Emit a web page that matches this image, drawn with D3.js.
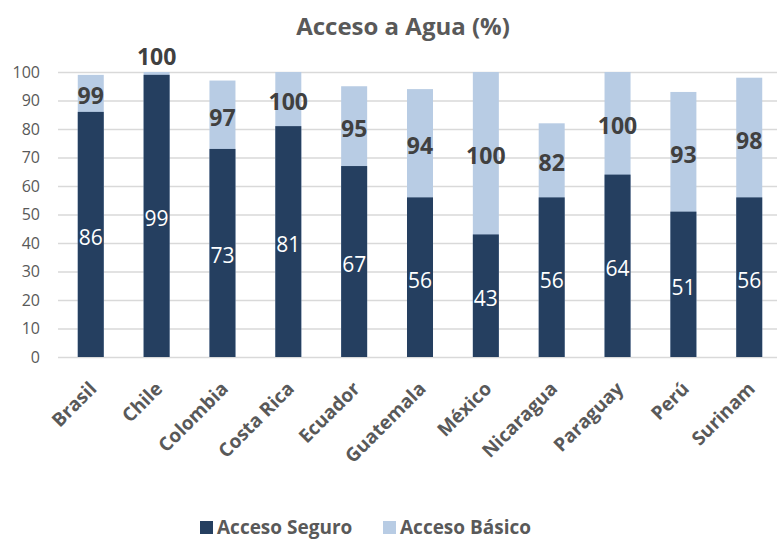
<!DOCTYPE html>
<html>
<head>
<meta charset="utf-8">
<script src="https://cdn.jsdelivr.net/npm/d3@7"></script>
<style>
  html, body { margin: 0; padding: 0; background: #fff; }
  svg { display: block; overflow: hidden; }
</style>
</head>
<body>
<svg id="chart" width="777" height="540"></svg>
<script>
const countries = ['Brasil', 'Chile', 'Colombia', 'Costa Rica', 'Ecuador', 'Guatemala',
  'México', 'Nicaragua', 'Paraguay', 'Perú', 'Surinam'];
const seguro = [86, 99, 73, 81, 67, 56, 43, 56, 64, 51, 56];
const basico = [99, 100, 97, 100, 95, 94, 100, 82, 100, 93, 98];
const yTicks = [0, 10, 20, 30, 40, 50, 60, 70, 80, 90, 100];

const FONT = '"Open Sans", "Noto Sans", sans-serif';
const DARK = '#253F60';
const LIGHT = '#B8CCE4';
const TEXT = '#595959';

const rows = countries.map((c, i) => ({ name: c, seguro: seguro[i], basico: basico[i] }));

const svg = d3.select('#chart');
const margin = { top: 72, left: 58, bottom: 183 };
const plotRight = 782;   // plot area runs past the right edge of the picture
const height = 540 - margin.top - margin.bottom;

const x = d3.scaleBand().domain(countries).range([margin.left, plotRight]).paddingInner(0.605).paddingOuter(0.3);
const y = d3.scaleLinear().domain([0, 100]).range([margin.top + height, margin.top]);

// Title
svg.append('text')
  .attr('x', 403).attr('y', 35)
  .attr('text-anchor', 'middle')
  .attr('font-family', FONT).attr('font-weight', 700).attr('font-size', 24)
  .attr('fill', TEXT)
  .text('Acceso a Agua (%)');

// Grid
svg.append('g')
  .attr('transform', `translate(${margin.left},0)`)
  .call(d3.axisLeft(y).tickValues(yTicks).tickSize(-(777 - margin.left)).tickFormat(''))
  .call(ax => ax.select('.domain').remove())
  .call(ax => ax.selectAll('line').attr('stroke', '#d9d9d9').attr('stroke-width', 1.5));

// Y axis labels
svg.append('g')
  .attr('transform', `translate(${margin.left},0)`)
  .call(d3.axisLeft(y).tickValues(yTicks).tickSize(0).tickPadding(18))
  .call(ax => ax.select('.domain').remove())
  .call(ax => ax.selectAll('text')
    .attr('fill', TEXT).attr('font-family', FONT).attr('font-size', 16));

// Bars: basic access behind, safe access in front
const bars = svg.append('g');
bars.selectAll('rect.basico')
  .data(rows).join('rect')
  .attr('class', 'basico')
  .attr('x', d => x(d.name)).attr('width', x.bandwidth())
  .attr('y', d => y(d.basico)).attr('height', d => y(0) - y(d.basico))
  .attr('fill', LIGHT);

bars.selectAll('rect.seguro')
  .data(rows).join('rect')
  .attr('class', 'seguro')
  .attr('x', d => x(d.name)).attr('width', x.bandwidth())
  .attr('y', d => y(d.seguro)).attr('height', d => y(0) - y(d.seguro))
  .attr('fill', DARK);

// Labels
svg.append('g').selectAll('text')
  .data(rows).join('text')
  .attr('x', d => x(d.name) + x.bandwidth() / 2)
  .attr('y', d => y(d.seguro / 2) + 3)
  .attr('dy', '0.35em')
  .attr('text-anchor', 'middle')
  .attr('font-family', FONT).attr('font-size', 21)
  .attr('fill', '#fff')
  .text(d => d.seguro);

svg.append('g').selectAll('text')
  .data(rows).join('text')
  .attr('x', d => x(d.name) + x.bandwidth() / 2)
  .attr('y', d => d.basico - d.seguro < 5 ? y(d.basico) - 15 : y((d.seguro + d.basico) / 2) + 3)
  .attr('dy', '0.35em')
  .attr('text-anchor', 'middle')
  .attr('font-family', FONT).attr('font-weight', 700).attr('font-size', 23)
  .attr('fill', '#404040')
  .text(d => d.basico);

// X axis labels
svg.append('g').selectAll('text')
  .data(countries).join('text')
  .attr('transform', d => `translate(${x(d) + x.bandwidth() / 2 + 7},${y(0) + 33}) rotate(-45)`)
  .attr('text-anchor', 'end')
  .attr('font-family', FONT).attr('font-weight', 700).attr('font-size', 19)
  .attr('fill', TEXT)
  .text(d => d);

// Legend
const legendItems = [
  { label: 'Acceso Seguro', color: DARK, x: 200 },
  { label: 'Acceso Básico', color: LIGHT, x: 383 }
];
const legend = svg.append('g').selectAll('g')
  .data(legendItems).join('g')
  .attr('transform', d => `translate(${d.x},521)`);
legend.append('rect').attr('width', 13).attr('height', 13).attr('fill', d => d.color);
legend.append('text')
  .attr('x', 17).attr('y', 13)
  .attr('font-family', FONT).attr('font-weight', 700).attr('font-size', 19)
  .attr('fill', TEXT)
  .text(d => d.label);
</script>
</body>
</html>
